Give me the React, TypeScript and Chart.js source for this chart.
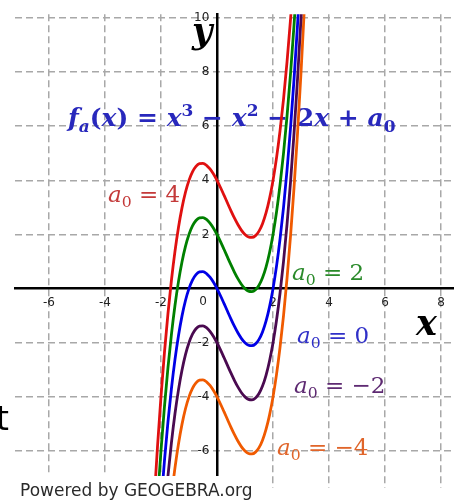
import { useEffect, useRef } from "react";
import { Chart, registerables } from "chart.js";

Chart.register(...registerables);

// Sample positions along x and the readings of each curve f(x) = x³ − x² − 2x + a₀
const xValues = [
  -2.375, -2.25, -2.125, -2, -1.875, -1.75, -1.625, -1.5, -1.375, -1.25, -1.125, -1, -0.875, -0.75, -0.625,
  -0.5, -0.375, -0.25, -0.125, 0, 0.125, 0.25, 0.375, 0.5, 0.625, 0.75, 0.875, 1, 1.125, 1.25,
  1.375, 1.5, 1.625, 1.75, 1.875, 2, 2.125, 2.25, 2.375, 2.5, 2.625, 2.75, 2.875, 3, 3.125,
];
const curveA4 = [
  -10.287, -7.953, -5.862, -4, -2.358, -0.922, 0.318, 1.375, 2.259, 2.984, 3.56, 4, 4.314, 4.516, 4.615,
  4.625, 4.557, 4.422, 4.232, 4, 3.736, 3.453, 3.162, 2.875, 2.603, 2.359, 2.154, 2, 1.908, 1.891,
  1.959, 2.125, 2.4, 2.797, 3.326, 4, 4.83, 5.828, 7.005, 8.375, 9.947, 11.734, 13.748, 16, 18.502,
];
const curveA2 = [
  -12.287, -9.953, -7.862, -6, -4.358, -2.922, -1.682, -0.625, 0.259, 0.984, 1.56, 2, 2.314, 2.516, 2.615,
  2.625, 2.557, 2.422, 2.232, 2, 1.736, 1.453, 1.162, 0.875, 0.603, 0.359, 0.154, 0, -0.092, -0.109,
  -0.041, 0.125, 0.4, 0.797, 1.326, 2, 2.83, 3.828, 5.005, 6.375, 7.947, 9.734, 11.748, 14, 16.502,
];
const curveA0 = [
  -14.287, -11.953, -9.862, -8, -6.358, -4.922, -3.682, -2.625, -1.741, -1.016, -0.44, 0, 0.314, 0.516, 0.615,
  0.625, 0.557, 0.422, 0.232, 0, -0.264, -0.547, -0.838, -1.125, -1.397, -1.641, -1.846, -2, -2.092, -2.109,
  -2.041, -1.875, -1.6, -1.203, -0.674, 0, 0.83, 1.828, 3.005, 4.375, 5.947, 7.734, 9.748, 12, 14.502,
];
const curveAm2 = [
  -16.287, -13.953, -11.862, -10, -8.358, -6.922, -5.682, -4.625, -3.741, -3.016, -2.44, -2, -1.686, -1.484, -1.385,
  -1.375, -1.443, -1.578, -1.768, -2, -2.264, -2.547, -2.838, -3.125, -3.397, -3.641, -3.846, -4, -4.092, -4.109,
  -4.041, -3.875, -3.6, -3.203, -2.674, -2, -1.17, -0.172, 1.005, 2.375, 3.947, 5.734, 7.748, 10, 12.502,
];
const curveAm4 = [
  -18.287, -15.953, -13.862, -12, -10.358, -8.922, -7.682, -6.625, -5.741, -5.016, -4.44, -4, -3.686, -3.484, -3.385,
  -3.375, -3.443, -3.578, -3.768, -4, -4.264, -4.547, -4.838, -5.125, -5.397, -5.641, -5.846, -6, -6.092, -6.109,
  -6.041, -5.875, -5.6, -5.203, -4.674, -4, -3.17, -2.172, -0.995, 0.375, 1.947, 3.734, 5.748, 8, 10.502,
];

const a0Values = ["4", "2", "0", "−2", "−4"];
const xTicks = [-6, -4, -2, 2, 4, 6, 8];
const yTicks = [-6, -4, -2, 2, 4, 6, 8, 10];

const curveColors = ["#e01010", "#008000", "#0000e6", "#4a0a50", "#f05a00"];
const labelColors = ["#c43a3a", "#2a8a2a", "#3030c8", "#5e2a72", "#e0652a"];
// left edge / baseline of each a₀ label (canvas pixels)
const labelAnchors = [
  [108, 202],
  [292, 280],
  [297, 343],
  [294, 393],
  [277, 455],
];

type Run = { t: string; style: string; shift?: "sub" | "sup" };

function drawRuns(ctx: CanvasRenderingContext2D, runs: Run[], x: number, y: number, size: number, family: string, color: string) {
  ctx.save();
  ctx.fillStyle = color;
  ctx.textBaseline = "alphabetic";
  ctx.textAlign = "left";
  let cx = x;
  for (const r of runs) {
    const fs = r.shift ? size * 0.68 : size;
    ctx.font = `${r.style} ${fs}px ${family}`;
    const dy = r.shift === "sub" ? size * 0.22 : r.shift === "sup" ? -size * 0.42 : 0;
    ctx.fillText(r.t, cx, y + dy);
    cx += ctx.measureText(r.t).width;
  }
  ctx.restore();
}

const formulaRuns: Run[] = [
  { t: "f", style: "bold italic" },
  { t: "a", style: "bold italic", shift: "sub" },
  { t: "(", style: "bold" },
  { t: "x", style: "bold italic" },
  { t: ")", style: "bold" },
  { t: " = ", style: "bold" },
  { t: "x", style: "bold italic" },
  { t: "3", style: "bold", shift: "sup" },
  { t: " − ", style: "bold" },
  { t: "x", style: "bold italic" },
  { t: "2", style: "bold", shift: "sup" },
  { t: " − ", style: "bold" },
  { t: "2", style: "bold" },
  { t: "x", style: "bold italic" },
  { t: " + ", style: "bold" },
  { t: "a", style: "bold italic" },
  { t: "0", style: "bold", shift: "sub" },
];

const annotations = {
  id: "annotations",
  // formula and parameter labels sit underneath the curves
  beforeDatasetsDraw(chart: any) {
    const ctx: CanvasRenderingContext2D = chart.ctx;
    drawRuns(ctx, formulaRuns, 68, 126, 25, '"DejaVu Serif"', "#2828bc");
    a0Values.forEach((v, i) => {
      const runs: Run[] = [
        { t: "a", style: "italic" },
        { t: "0", style: "normal", shift: "sub" },
        { t: " = ", style: "normal" },
        { t: v, style: "normal" },
      ];
      drawRuns(ctx, runs, labelAnchors[i][0], labelAnchors[i][1], 23, '"DejaVu Serif"', labelColors[i]);
    });
  },
  afterDraw(chart: any) {
    const ctx: CanvasRenderingContext2D = chart.ctx;
    const xs = chart.scales.x;
    const ys = chart.scales.y;
    const ox = xs.getPixelForValue(0);
    const oy = ys.getPixelForValue(0);

    ctx.save();
    // origin label
    ctx.fillStyle = "#222";
    ctx.font = '12px "DejaVu Sans"';
    ctx.textAlign = "center";
    ctx.textBaseline = "top";
    ctx.fillText("0", ox - 14, oy + 7);

    // axis names
    ctx.fillStyle = "#000";
    ctx.textAlign = "left";
    ctx.textBaseline = "alphabetic";
    ctx.font = 'bold italic 35px "DejaVu Serif"';
    ctx.fillText("y", 192, 43);
    ctx.fillText("x", 416, 335);

    // stray glyph at the left border
    ctx.font = '33px "DejaVu Sans"';
    ctx.fillText("t", -4, 430);

    // credit bar
    ctx.fillStyle = "#fff";
    ctx.fillRect(0, 476, 258, 26);
    ctx.fillStyle = "#2a2a2a";
    ctx.font = '17px "DejaVu Sans"';
    ctx.fillText("Powered by GEOGEBRA.org", 20, 496);
    ctx.restore();
  },
};

export default function App() {
  const canvasRef = useRef<HTMLCanvasElement | null>(null);

  useEffect(() => {
    const canvas = canvasRef.current;
    if (!canvas) return;
    const curves = [curveA4, curveA2, curveA0, curveAm2, curveAm4];
    const chart = new Chart(canvas, {
      type: "line",
      data: {
        datasets: curves.map((vals, i) => ({
          label: `a0 = ${a0Values[i]}`,
          data: xValues.map((x, j) => ({ x, y: vals[j] })),
          borderColor: curveColors[i],
          borderWidth: 2.8,
          pointRadius: 0,
          fill: false,
          cubicInterpolationMode: "monotone" as const,
        })),
      },
      options: {
        animation: false,
        responsive: false,
        devicePixelRatio: 1,
        layout: { padding: { left: 15, top: 12, right: 0, bottom: 0 } },
        plugins: { legend: { display: false }, tooltip: { enabled: false } },
        scales: {
          x: {
            type: "linear",
            position: { y: 0 } as any,
            min: -7.21,
            max: 8.46,
            afterBuildTicks: (s: any) => {
              s.ticks = xTicks.map((v) => ({ value: v }));
            },
            grid: { color: "#a8a8a8", lineWidth: 1.5, drawTicks: false },
            border: { display: true, color: "#000", width: 2.5, dash: [7, 4] },
            ticks: {
              padding: 7,
              color: "#222",
              font: { family: "DejaVu Sans", size: 12 },
              maxRotation: 0,
              autoSkip: false,
              callback: (v: any) => String(v),
            },
          },
          y: {
            type: "linear",
            position: { x: 0 } as any,
            min: -7.36,
            max: 10.14,
            afterBuildTicks: (s: any) => {
              s.ticks = yTicks.map((v) => ({ value: v }));
            },
            grid: { color: "#a8a8a8", lineWidth: 1.5, drawTicks: false },
            border: { display: true, color: "#000", width: 2.5, dash: [7, 4] },
            ticks: {
              padding: 7,
              color: "#222",
              font: { family: "DejaVu Sans", size: 12 },
              autoSkip: false,
              callback: (v: any) => `${v}  `,
            },
          },
        },
      },
      plugins: [annotations],
    });
    return () => chart.destroy();
  }, []);

  return (
    <div style={{ position: "fixed", left: 0, top: 0, width: 454, height: 502, background: "#fff" }}>
      <canvas ref={canvasRef} width={454} height={502} style={{ display: "block" }} />
    </div>
  );
}
